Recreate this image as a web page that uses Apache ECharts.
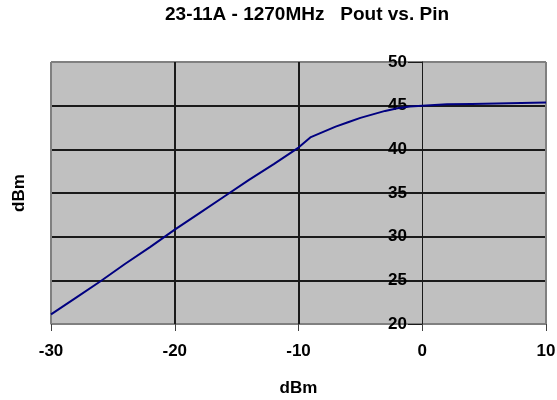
<!DOCTYPE html>
<html>
<head>
<meta charset="utf-8">
<script src="https://cdn.jsdelivr.net/npm/echarts@6/dist/echarts.min.js"></script>
<style>
html,body{margin:0;padding:0;background:#fff;}
#chart{width:557px;height:400px;}
</style>
</head>
<body>
<div id="chart"></div>
<script>
const titleText = '23-11A - 1270MHz   Pout vs. Pin';
const xName = 'dBm';
const yName = 'dBm';
const pin  = [-30, -28, -26, -24, -22, -20, -18, -16, -14, -12, -10, -9, -8, -7, -6, -5, -4, -3, -2, -1, 0, 2, 4, 6, 8, 10];
const pout = [21.1, 23.0, 24.9, 26.9, 28.8, 30.8, 32.7, 34.6, 36.5, 38.3, 40.2, 41.4, 42.0, 42.6, 43.1, 43.6, 44.0, 44.4, 44.7, 44.9, 45.0, 45.15, 45.2, 45.25, 45.3, 45.35];

const font = "'Liberation Sans', Arial, sans-serif";
const chart = echarts.init(document.getElementById('chart'));
chart.setOption({
  animation: false,
  backgroundColor: '#ffffff',
  title: {
    text: titleText,
    left: 160, top: 0,
    textStyle: {fontFamily: font, fontWeight: 'bold', fontSize: 19, color: '#000'}
  },
  grid: {
    left: 51, right: 11, top: 62, bottom: 76,
    containLabel: false, outerBoundsMode: 'none',
    show: true, backgroundColor: '#c0c0c0', borderColor: '#808080', borderWidth: 1
  },
  xAxis: {
    type: 'value', min: -30, max: 10, interval: 10,
    name: xName, nameLocation: 'middle', nameGap: 56,
    nameTextStyle: {fontFamily: font, fontWeight: 'bold', fontSize: 17, color: '#000'},
    axisLine: {show: true, onZero: false, lineStyle: {color: '#808080', width: 1}},
    axisTick: {show: true, length: 7, lineStyle: {color: '#404040', width: 1}},
    axisLabel: {fontFamily: font, fontWeight: 'bold', fontSize: 17, color: '#000', margin: 19},
    splitLine: {show: true, lineStyle: {color: ['#808080', '#1a1a1a', '#1a1a1a', 'rgba(0,0,0,0)', '#808080'], width: 2}}
  },
  yAxis: {
    type: 'value', min: 20, max: 50, interval: 5,
    position: 'left', offset: -371,
    name: yName, nameLocation: 'middle', nameGap: 394, nameRotate: 90,
    nameTextStyle: {fontFamily: font, fontWeight: 'bold', fontSize: 17, color: '#000'},
    axisLine: {show: true, onZero: false, lineStyle: {color: '#1a1a1a', width: 1}},
    axisTick: {show: true, length: 14, lineStyle: {color: '#1a1a1a', width: 1}},
    axisLabel: {fontFamily: font, fontWeight: 'bold', fontSize: 17, color: '#000', margin: 15},
    splitLine: {show: true, lineStyle: {color: ['#808080', '#1a1a1a', '#1a1a1a', '#1a1a1a', '#1a1a1a', '#1a1a1a', '#808080'], width: 2}}
  },
  series: [{
    type: 'line',
    data: pin.map((x, i) => [x, pout[i]]),
    showSymbol: false,
    smooth: false,
    lineStyle: {color: '#000080', width: 2},
    z: 5
  }]
});
</script>
</body>
</html>
